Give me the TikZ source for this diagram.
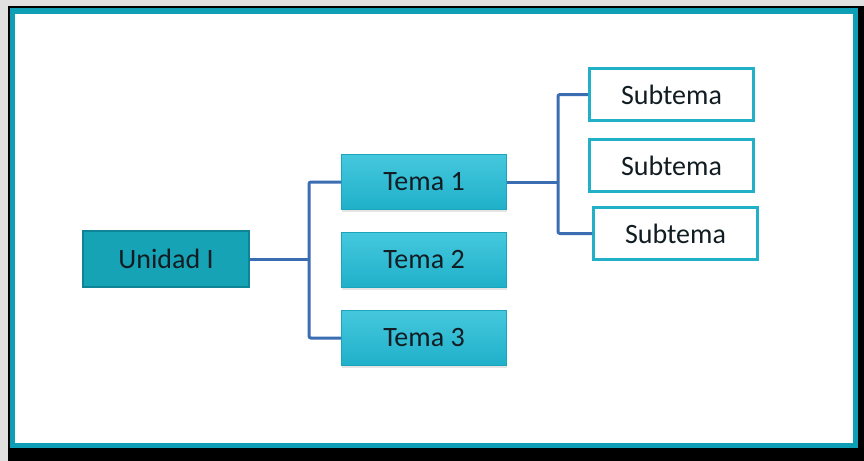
\documentclass[tikz,border=0pt]{standalone}
\usepackage{fontspec}
\setmainfont{Carlito}
\definecolor{FrameTeal}{HTML}{0E9FB6}
\definecolor{UnitTeal}{HTML}{17A3B6}
\definecolor{UnitEdge}{HTML}{0D8596}
\definecolor{TopicTop}{HTML}{45C8DE}
\definecolor{TopicBottom}{HTML}{1FB0C9}
\definecolor{TopicEdge}{HTML}{1AA5BC}
\definecolor{SubEdge}{HTML}{21B0C8}
\definecolor{LinkBlue}{HTML}{3B6DB3}
\definecolor{InkDark}{HTML}{111D22}
\usetikzlibrary{positioning,shadows}
\tikzset{
    % dark teal root box
    unit/.style={
        rectangle,
        draw=UnitEdge,
        line width=0.8pt,
        fill=UnitTeal,
        text=InkDark,
        minimum width=83pt,
        minimum height=28pt,
        font=\fontsize{14}{16}\selectfont
    },
    % shaded topic boxes
    topic/.style={
        rectangle,
        draw=TopicEdge,
        line width=0.5pt,
        top color=TopicTop,
        bottom color=TopicBottom,
        text=InkDark,
        minimum width=82.5pt,
        minimum height=27.5pt,
        font=\fontsize{14}{16}\selectfont,
        drop shadow={opacity=0.2, shadow xshift=0.4pt, shadow yshift=-1pt}
    },
    % white subtopic boxes
    subtopic/.style={
        rectangle,
        draw=SubEdge,
        line width=1.5pt,
        fill=white,
        text=InkDark,
        minimum width=82pt,
        minimum height=26pt,
        font=\fontsize{14}{16}\selectfont
    },
    link/.style={
        draw=LinkBlue,
        line width=1.5pt,
        rounded corners=1pt
    }
}
\begin{document}
\begin{tikzpicture}[x=0.5pt, y=-0.5pt]
        \useasboundingbox (0,0) rectangle (864,461);
        % Backdrop and framed panel
        \fill[black!12] (0,0) rectangle (864,461);
        \fill[black] (8,6) rectangle (864,461);
        \fill[FrameTeal] (9.5,7.5) rectangle (858,448);
        \fill[white] (15,14) rectangle (853,443);

        % Root
        \node[unit] (unidad) at (166,259) {Unidad I};

        % Topics
        \node[topic] (tema1) at (424,182) {Tema 1};
        \node[topic, below=11pt of tema1] (tema2) {Tema 2};
        \node[topic, below=11pt of tema2] (tema3) {Tema 3};

        % Subtopics
        \node[subtopic] (sub1) at (671.5,94.5) {Subtema};
        \node[subtopic, below=8pt of sub1] (sub2) {Subtema};
        \node[subtopic, below=6.5pt of sub2, xshift=2pt] (sub3) {Subtema};

        % Bus points
        \coordinate (bus1) at (309,259);
        \coordinate (bus2) at (558,178);

        % Connectors
        \draw[link] (unidad.east) -- (bus1);
        \draw[link] (tema1.west) -| (bus1) |- (tema3.west);
        \draw[link] (tema1.east) -- (tema1.east -| bus2);
        \draw[link] (sub1.west) -| (bus2) |- (sub3.west);
    \end{tikzpicture}
\end{document}
